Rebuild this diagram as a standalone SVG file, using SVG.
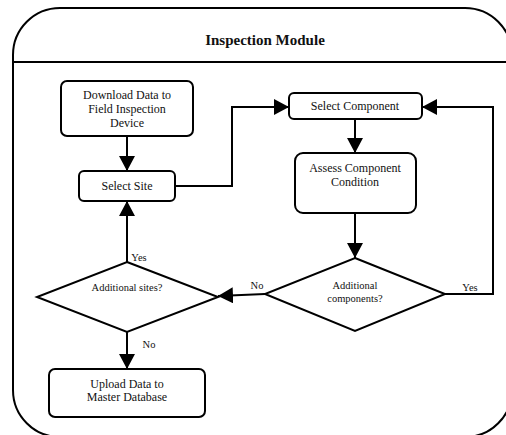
<svg xmlns="http://www.w3.org/2000/svg" width="506" height="435" viewBox="0 0 506 435">
<defs>
<marker id="arr" markerUnits="userSpaceOnUse" markerWidth="16" markerHeight="16" viewBox="0 0 16 16" refX="15" refY="8" orient="auto">
<path d="M0,0 L15,8 L0,16 Z" fill="#000"/>
</marker>
<style>
.box{fill:#fff;stroke:#000;stroke-width:2}
.dia{fill:#fff;stroke:#000;stroke-width:2;stroke-linejoin:miter}
.ln{fill:none;stroke:#000;stroke-width:2}
text{font-family:"Liberation Serif","Tinos","DejaVu Serif","Noto Serif","Times New Roman",serif;fill:#111;text-anchor:middle}
.t{font-size:12px}
.s{font-size:10.5px}
.title{font-size:15px;font-weight:bold}
</style>
</defs>
<rect width="506" height="435" fill="#fff"/>
<g id="module">
<rect x="13" y="8" width="499" height="429" rx="47" ry="47" class="ln"/>
<line x1="13" y1="62" x2="512" y2="62" class="ln"/>
<text x="265" y="45" class="title">Inspection Module</text>
</g>
<g id="connectors">
<line x1="127" y1="136" x2="127" y2="171" class="ln" marker-end="url(#arr)"/>
<polyline points="175,186 232,186 232,107 289,107" class="ln" marker-end="url(#arr)"/>
<line x1="355" y1="120" x2="355" y2="153" class="ln" marker-end="url(#arr)"/>
<line x1="355" y1="213" x2="355" y2="258" class="ln" marker-end="url(#arr)"/>
<polyline points="445,294 493,294 493,107 422,107" class="ln" marker-end="url(#arr)"/>
<polyline points="265,294 218,296" class="ln" marker-end="url(#arr)"/>
<line x1="127" y1="262" x2="127" y2="201" class="ln" marker-end="url(#arr)"/>
<line x1="127" y1="332" x2="127" y2="369" class="ln" marker-end="url(#arr)"/>
<text x="470" y="291" class="s">Yes</text>
<text x="257" y="289" class="s">No</text>
<text x="139" y="261" class="s">Yes</text>
<text x="149" y="348" class="s">No</text>
</g>
<g id="download">
<rect x="61" y="81" width="132" height="55" rx="6" class="box"/>
<text x="127" y="99" class="t">Download Data to</text>
<text x="127" y="113" class="t">Field Inspection</text>
<text x="127" y="127" class="t">Device</text>
</g>
<g id="selectComponent">
<rect x="289" y="93" width="133" height="26" rx="5" class="box"/>
<text x="355" y="110" class="t">Select Component</text>
</g>
<g id="selectSite">
<rect x="79" y="171" width="96" height="30" rx="5" class="box"/>
<text x="127" y="190" class="t">Select Site</text>
</g>
<g id="assess">
<rect x="295" y="153" width="121" height="60" rx="8" class="box"/>
<text x="355" y="172" class="t">Assess Component</text>
<text x="355" y="186" class="t">Condition</text>
</g>
<g id="additionalComponents">
<polygon points="355,258 445,294 355,331 265,294" class="dia"/>
<text x="355" y="289" class="s">Additional</text>
<text x="355" y="302" class="s">components?</text>
</g>
<g id="additionalSites">
<polygon points="127,262 218,297 127,332 37,297" class="dia"/>
<text x="127" y="291" class="s">Additional sites?</text>
</g>
<g id="upload">
<rect x="49" y="369" width="156" height="48" rx="6" class="box"/>
<text x="127" y="388" class="t">Upload Data to</text>
<text x="127" y="401" class="t">Master Database</text>
</g>
</svg>
